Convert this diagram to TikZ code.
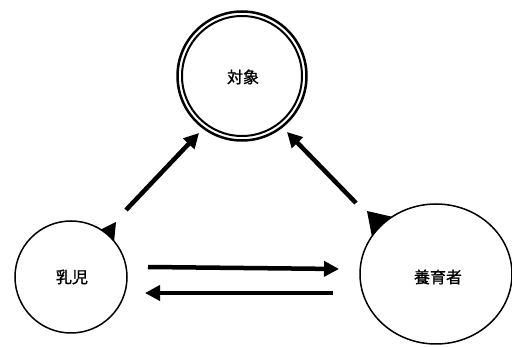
\documentclass[tikz,border=0pt]{standalone}
\usepackage{fontspec}
\newfontfamily\cjk[FakeBold=1.2]{Noto Sans CJK JP}
\usetikzlibrary{arrows.meta,shapes.geometric}
\begin{document}
\begin{tikzpicture}[x=1pt,y=-1pt,
  lbl/.style={font=\cjk\fontsize{16}{19}\selectfont,inner sep=0pt},
  thick arrow/.style={line width=4.5pt,-{Triangle[length=15pt,width=15pt]}},
  head/.style={fill=black}]
\useasboundingbox[fill=white] (0,0) rectangle (512,347);
% small arrowheads (partly covered by circles)
\fill[head] (100,230) -- (116,222) -- (114,242) -- cycle;
\fill[head] (367,211) -- (393,217) -- (372,237) -- cycle;
% circles
\node[circle,draw,fill=white,line width=1.5pt,minimum size=112pt,inner sep=0pt] (baby) at (71,277) {};
\node[ellipse,draw,fill=white,line width=1.5pt,minimum width=152pt,minimum height=140pt,inner sep=0pt] (care) at (436,274) {};
\node[circle,draw,fill=white,line width=2pt,minimum size=120pt,inner sep=0pt] (obj) at (242,76) {};
\node[circle,draw,line width=2.5pt,minimum size=129pt,inner sep=0pt] (objo) at (242,76) {};
% labels
\node[lbl] (tbaby) at (72,277) {乳児};
\node[lbl] (tcare) at (438,277) {養育者};
\node[lbl] (tobj) at (243,77) {対象};
% connectors
\coordinate (l1) at (126,210);
\coordinate (l2) at (199,133);
\coordinate (r1) at (356,203);
\coordinate (r2) at (287,132);
\draw[thick arrow] (l1) -- (l2);
\draw[thick arrow] (r1) -- (r2);
\coordinate (h1) at (148,267);
\coordinate (h2) at (339,269);
\coordinate (g1) at (333,293);
\coordinate (g2) at (145,293);
\draw[thick arrow] (h1) -- (h2);
\draw[thick arrow] (g1) -- (g2);
\end{tikzpicture}
\end{document}
